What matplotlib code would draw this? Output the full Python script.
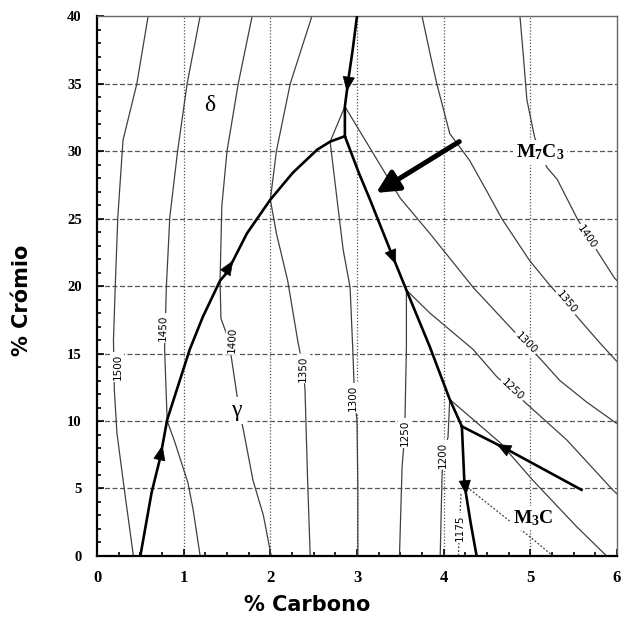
import matplotlib
matplotlib.use('Agg')
import matplotlib.pyplot as plt
import numpy as np
from matplotlib.ticker import MultipleLocator

plt.rcParams['mathtext.fontset'] = 'custom'
plt.rcParams['mathtext.rm'] = 'Liberation Serif'
plt.rcParams['mathtext.bf'] = 'Liberation Serif:bold'

# liquidus valleys (thick lines): % C, % Cr
delta_gamma_c = [0.50, 0.63, 0.73, 0.81, 0.92, 1.07, 1.22, 1.42, 1.50, 1.73, 2.00, 2.26, 2.54, 2.69, 2.86]
delta_gamma_cr = [0, 4.7, 7.3, 10.1, 12.3, 15.3, 17.7, 20.4, 21.0, 23.9, 26.4, 28.4, 30.1, 30.7, 31.1]
delta_m7_c = [3.00, 2.95, 2.90, 2.86, 2.86]
delta_m7_cr = [40, 37.5, 35.3, 33.3, 31.1]
gamma_m7_c = [2.86, 3.02, 3.15, 3.38, 3.57, 3.84, 4.07, 4.21]
gamma_m7_cr = [31.1, 28.4, 26.4, 22.7, 19.7, 15.5, 11.6, 9.6]
m3_m7_c = [4.21, 4.73, 5.59]
m3_m7_cr = [9.6, 7.9, 4.9]
gamma_m3_c = [4.21, 4.24, 4.31, 4.38]
gamma_m3_cr = [9.6, 5.3, 2.5, 0]

# isotherms (thin lines)
iso_1500_c = [0.59, 0.46, 0.30, 0.24, 0.21, 0.19, 0.20, 0.23, 0.32, 0.42]
iso_1500_cr = [40, 35, 30.8, 25.1, 19.9, 16, 12.3, 9.1, 4.7, 0]
iso_1450_c = [1.19, 1.04, 0.93, 0.84, 0.80, 0.78, 0.81, 0.90, 0.99, 1.05, 1.11, 1.19]
iso_1450_cr = [40, 35, 30, 25.1, 19.9, 15.3, 10.0, 8.4, 6.6, 5.4, 3.4, 0]
iso_1400_c = [1.79, 1.63, 1.50, 1.44, 1.42, 1.43, 1.52, 1.59, 1.64, 1.69, 1.80, 1.92, 2.01]
iso_1400_cr = [40, 35, 30, 25.9, 20.4, 17.6, 16, 13, 10.8, 9.3, 5.6, 3, 0]
iso_1350_c = [2.48, 2.23, 2.07, 2.00, 2.07, 2.20, 2.32, 2.38, 2.40, 2.43, 2.46]
iso_1350_cr = [40, 35, 30, 26.4, 23.9, 20.4, 15.8, 13.9, 12.3, 5.6, 0]
iso_1300_c = [2.86, 2.69, 2.77, 2.84, 2.92, 2.95, 2.97, 3.00, 3.01, 3.01]
iso_1300_cr = [33.3, 30.7, 26.4, 22.7, 19.9, 15.5, 12, 10, 5, 0]
iso_1250_c = [3.57, 3.57, 3.55, 3.52, 3.49]
iso_1250_cr = [19.7, 15.5, 9.0, 6.6, 0]
iso_1200_c = [4.07, 4.05, 3.99, 3.98, 3.96]
iso_1200_cr = [11.6, 8.8, 7.5, 5.6, 0]
iso_1175_c = [4.20, 4.18, 4.17]
iso_1175_cr = [4.6, 2.0, 0]

m7_1400_c = [4.88, 4.92, 4.96, 5.05, 5.19, 5.31, 5.54, 5.80, 5.97, 6.0]
m7_1400_cr = [40, 37, 33.8, 31, 28.8, 27.9, 25.0, 22.3, 20.6, 20.4]
m7_1350_c = [3.75, 3.85, 3.92, 4.07, 4.30, 4.50, 4.67, 4.99, 5.22, 5.57, 5.80, 6.0]
m7_1350_cr = [40, 37, 35, 31.3, 29.3, 27, 25, 21.9, 20.1, 17.5, 15.8, 14.4]
m7_1300_c = [2.86, 3.18, 3.50, 3.84, 4.34, 4.76, 5.13, 5.34, 5.65, 6.0]
m7_1300_cr = [33.3, 29.9, 26.5, 23.9, 19.9, 17.0, 14.5, 13.0, 11.4, 9.8]
m7_1250_c = [3.57, 3.84, 4.34, 4.61, 4.97, 5.42, 5.95, 6.0]
m7_1250_cr = [19.7, 18.0, 15.3, 13.3, 11.2, 8.6, 4.9, 4.6]
m7_1200_c = [4.07, 4.65, 5.03, 5.53, 5.88]
m7_1200_cr = [11.6, 8.4, 5.6, 2.2, 0]
m3_1175_c = [4.27, 4.70, 5.00, 5.26]
m3_1175_cr = [5.1, 2.9, 1.4, 0]

fig = plt.figure(figsize=(6.23, 6.19), dpi=100)
ax = fig.add_axes([0.1557, 0.1018, 0.8347, 0.8722])
ax.set_xlim(0, 6)
ax.set_ylim(0, 40)

# grid
for xv in range(1, 6):
    ax.axvline(xv, color='#555555', lw=0.9, ls=(0, (1, 1.5)), zorder=1)
for yv in range(5, 40, 5):
    ax.axhline(yv, color='#555555', lw=0.9, ls=(0, (4, 2)), zorder=1)

thin = dict(color='#404040', lw=0.9, zorder=2, solid_joinstyle='round')
for xs, ys in [(iso_1500_c, iso_1500_cr), (iso_1450_c, iso_1450_cr), (iso_1400_c, iso_1400_cr),
               (iso_1350_c, iso_1350_cr), (iso_1300_c, iso_1300_cr), (iso_1250_c, iso_1250_cr),
               (iso_1200_c, iso_1200_cr), (m7_1400_c, m7_1400_cr), (m7_1350_c, m7_1350_cr),
               (m7_1300_c, m7_1300_cr), (m7_1250_c, m7_1250_cr), (m7_1200_c, m7_1200_cr)]:
    ax.plot(xs, ys, **thin)
ax.plot(iso_1175_c, iso_1175_cr, color='#404040', lw=0.9, ls=(0, (1.5, 1.5)), zorder=2)
ax.plot(m3_1175_c, m3_1175_cr, color='#404040', lw=0.9, ls=(0, (1.5, 1.5)), zorder=2)

thick = dict(color='black', lw=1.9, zorder=4, solid_joinstyle='round')
valleys = {
    'dg': (delta_gamma_c, delta_gamma_cr),
    'dm': (delta_m7_c, delta_m7_cr),
    'gm': (gamma_m7_c, gamma_m7_cr),
    'mm': (m3_m7_c, m3_m7_cr),
    'g3': (gamma_m3_c, gamma_m3_cr),
}
for xs, ys in valleys.values():
    ax.plot(xs, ys, **thick)


def c_at(key, cr):
    xs, ys = valleys[key]
    order = np.argsort(ys)
    return np.interp(cr, np.array(ys)[order], np.array(xs)[order])


# direction of the valleys (tail Cr -> tip Cr)
for key, cr0, cr1 in [('dg', 6.2, 8.2), ('dg', 20.2, 21.9), ('dm', 36.2, 34.4),
                      ('gm', 23.4, 21.6), ('mm', 7.3, 8.3), ('g3', 6.3, 4.5)]:
    ax.annotate('', xy=(c_at(key, cr1), cr1), xytext=(c_at(key, cr0), cr0),
                arrowprops=dict(arrowstyle='-|>,head_length=1.1,head_width=0.45',
                                color='black', lw=0.5, mutation_scale=9,
                                shrinkA=0, shrinkB=0), zorder=5)

# big pointer arrow
ax.annotate('', xy=(3.22, 26.9), xytext=(4.18, 30.7),
            arrowprops=dict(arrowstyle='-|>,head_length=0.9,head_width=0.45',
                            color='black', lw=3.6, mutation_scale=15,
                            shrinkA=0, shrinkB=0), zorder=6)

# isotherm labels
lab_font = ['Liberation Sans Narrow', 'DejaVu Sans']
white = dict(facecolor='white', edgecolor='none', pad=1.2)
iso_labels = [('1500', 0.24, 14.0, 90), ('1450', 0.76, 16.9, 89), ('1400', 1.56, 16.0, 88),
              ('1350', 2.38, 13.9, 89), ('1300', 2.95, 11.7, 90), ('1250', 3.55, 9.1, 90),
              ('1200', 3.99, 7.5, 91), ('1175', 4.19, 2.1, 90),
              ('1400', 5.65, 23.6, -55), ('1350', 5.42, 18.8, -50),
              ('1300', 4.95, 15.8, -45), ('1250', 4.79, 12.3, -43)]
for txt, x, y, rot in iso_labels:
    ax.text(x, y, txt, rotation=rot, rotation_mode='anchor', ha='center', va='center',
            fontsize=7.5, family=lab_font, bbox=white, zorder=3)

serif = ['Liberation Serif', 'DejaVu Serif']
ax.text(1.30, 33.4, 'δ', fontsize=17, family=serif, ha='center', va='center', zorder=3)
ax.text(1.61, 10.8, 'γ', fontsize=17, family=serif, ha='center', va='center',
        bbox=dict(facecolor='white', edgecolor='none', pad=2), zorder=3)
ax.text(5.11, 29.9, r'$\mathbf{M_7C_3}$', fontsize=14, ha='center', va='center',
        bbox=dict(facecolor='white', edgecolor='none', pad=2), zorder=3)
ax.text(5.03, 2.8, r'$\mathbf{M_3C}$', fontsize=14, ha='center', va='center',
        bbox=dict(facecolor='white', edgecolor='none', pad=1.5), zorder=3)

# axes styling
ax.xaxis.set_major_locator(MultipleLocator(1))
ax.xaxis.set_minor_locator(MultipleLocator(0.25))
ax.yaxis.set_major_locator(MultipleLocator(5))
ax.yaxis.set_minor_locator(MultipleLocator(1))
ax.tick_params(which='both', direction='in', top=False, right=False, width=1.2)
ax.tick_params(which='major', length=5)
ax.tick_params(which='minor', length=3)
ax.tick_params(axis='x', pad=10)
ax.tick_params(axis='y', pad=11)
for lbl in ax.get_xticklabels():
    lbl.set_family(serif)
    lbl.set_fontweight('bold')
    lbl.set_fontsize(12)
for lbl in ax.get_yticklabels():
    lbl.set_family(serif)
    lbl.set_fontweight('bold')
    lbl.set_fontsize(10.5)
for side in ['left', 'bottom']:
    ax.spines[side].set_linewidth(1.6)
for side in ['top', 'right']:
    ax.spines[side].set_linewidth(1.0)
    ax.spines[side].set_color('#666666')

fig.text(0.493, 0.023, '% Carbono', fontsize=15, fontweight='bold', ha='center', va='center')
fig.text(0.035, 0.515, '% Crómio', fontsize=15, fontweight='bold', ha='center', va='center',
         rotation=90)

fig.savefig('out.png', dpi=100)
